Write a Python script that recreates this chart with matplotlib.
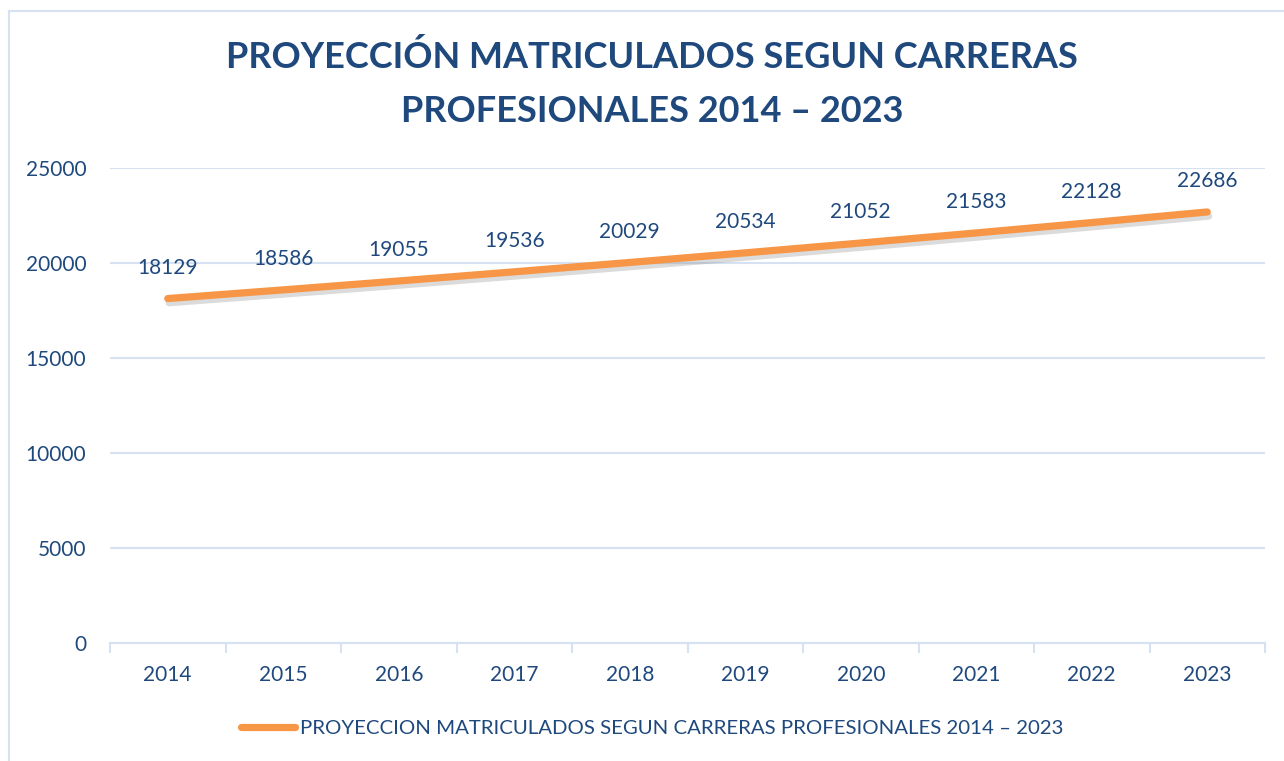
import matplotlib.pyplot as plt
import matplotlib.patheffects as pe
from matplotlib.patches import Rectangle
from matplotlib.lines import Line2D

# datos
anios = ['2014', '2015', '2016', '2017', '2018', '2019', '2020', '2021', '2022', '2023']
matriculados = [18129, 18586, 19055, 19536, 20029, 20534, 21052, 21583, 22128, 22686]
titulo = 'PROYECCIÓN MATRICULADOS SEGUN CARRERAS\nPROFESIONALES 2014 – 2023'
leyenda = 'PROYECCION MATRICULADOS SEGUN CARRERAS PROFESIONALES 2014 – 2023'

azul = '#1F497D'
naranja = '#F79646'
grid = '#D6E2F1'

plt.rcParams['font.family'] = ['Lato', 'DejaVu Sans']

fig = plt.figure(figsize=(12.84, 7.61), dpi=100)
# marco del grafico
fig.patches.append(Rectangle((9 / 1284, -0.01), 1.0, 1 - 11 / 761 + 0.01,
                             transform=fig.transFigure, fill=False,
                             edgecolor='#D6E2F4', linewidth=1.5))

ax = fig.add_axes([110 / 1284, 1 - 643 / 761, (1265 - 110) / 1284, (643 - 168) / 761])
x = list(range(len(anios)))
ax.plot(x, matriculados, color=naranja, linewidth=5.2, solid_capstyle='round',
        path_effects=[pe.SimpleLineShadow(offset=(1.0, -3.0), shadow_color='#888888', alpha=0.3),
                      pe.Normal()])

for xi, v in zip(x, matriculados):
    ax.annotate(str(v), (xi, v), xytext=(0, 22), textcoords='offset points',
                ha='center', va='center', fontsize=15, color=azul)

ax.set_xlim(-0.5, len(anios) - 0.5)
ax.set_ylim(0, 25000)
ax.set_yticks(range(0, 25001, 5000))
ax.set_xticks(x)
ax.set_xticklabels(anios)
ax.set_xticks([i - 0.5 for i in range(len(anios) + 1)], minor=True)
ax.tick_params(axis='x', which='major', length=0, pad=16, labelsize=15, labelcolor=azul)
ax.tick_params(axis='x', which='minor', length=7, color=grid, width=1.5)
ax.tick_params(axis='y', length=0, pad=17, labelsize=15, labelcolor=azul)

ax.grid(axis='y', color=grid, linewidth=1.5)
ax.set_axisbelow(True)
for s in ['top', 'right', 'left']:
    ax.spines[s].set_visible(False)
ax.spines['bottom'].set_color(grid)
ax.spines['bottom'].set_linewidth(1.5)

fig.text(0.508, 1 - 84 / 761, titulo, ha='center', va='center', fontsize=26,
         fontweight='bold', color=azul, linespacing=1.75)

handle = Line2D([], [], color=naranja, linewidth=5.2, solid_capstyle='round')
fig.legend(handles=[handle], labels=[leyenda], loc='center', bbox_to_anchor=(0.508, 1 - 728 / 761),
           frameon=False, fontsize=14.7, labelcolor=azul, handlelength=2.6, handletextpad=0.25)

fig.savefig('out.png', dpi=100)
